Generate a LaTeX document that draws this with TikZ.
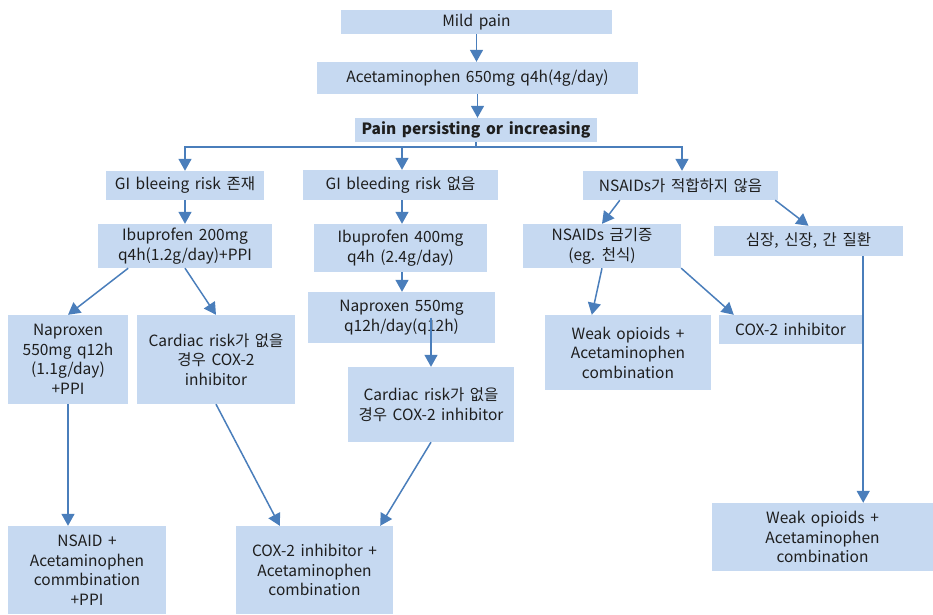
\documentclass[tikz,border=0pt]{standalone}
\usepackage{fontspec}
\setmainfont[WordSpace=1.6]{Noto Sans CJK KR}
\usetikzlibrary{arrows.meta,calc}
\definecolor{boxblue}{HTML}{C6D9F1}
\definecolor{arrowblue}{HTML}{4A7EBB}
\definecolor{txt}{HTML}{1E1E1E}
\tikzset{
  bx/.style={fill=boxblue, draw=none, inner sep=0pt, align=center, text=txt,
    font=\fontsize{15.5}{19.5}\selectfont},
  arr/.style={draw=arrowblue, line width=1.5pt, -{Triangle[width=13pt,length=12pt]}},
  ln/.style={draw=arrowblue, line width=1.5pt}
}
\begin{document}
\begin{tikzpicture}[x=1pt,y=-1pt]
\useasboundingbox (0,0) rectangle (933,614);
% boxes
\node[bx, minimum width=271, minimum height=24] (mild) at (476.5,22) {Mild pain};
\node[bx, minimum width=321, minimum height=32] (acet) at (477.5,78) {Acetaminophen 650mg q4h(4g/day)};
\node[bx, minimum width=242, minimum height=24, font=\fontsize{15.5}{19.5}\selectfont\bfseries] (pain) at (476,130) {\raisebox{-2pt}{Pain persisting or increasing}};
\node[bx, minimum width=158, minimum height=29] (gi1) at (185,185.5) {GI bleeing risk 존재};
\node[bx, minimum width=195, minimum height=30] (gi2) at (400.5,185) {GI bleeding risk 없음};
\node[bx, minimum width=195, minimum height=29] (nsa) at (680.5,185.5) {NSAIDs가 적합하지 않음};
\node[bx, minimum width=174, minimum height=44] (ibu1) at (185,246) {Ibuprofen 200mg\\q4h(1.2g/day)+PPI};
\node[bx, minimum width=173, minimum height=48] (ibu2) at (400.5,248) {Ibuprofen 400mg\\q4h (2.4g/day)};
\node[bx, minimum width=158, minimum height=44] (con) at (602,246) {NSAIDs 금기증\\(eg. 천식)};
\node[bx, minimum width=189, minimum height=30] (heart) at (808.5,241) {심장, 신장, 간 질환};
\node[bx, minimum width=120, minimum height=89] (nap1) at (68,359.5) {Naproxen\\550mg q12h\\(1.1g/day)\\+PPI};
\node[bx, minimum width=158, minimum height=89] (card1) at (216,359.5) {Cardiac risk가 없을\\경우 COX-2\\inhibitor};
\node[bx, minimum width=187, minimum height=51] (nap2) at (401.5,317.5) {Naproxen 550mg\\q12h/day(q12h)};
\node[bx, minimum width=166, minimum height=75] (card2) at (431,404.5) {Cardiac risk가 없을\\경우 COX-2 inhibitor};
\node[bx, minimum width=166, minimum height=75] (weak1) at (628,352.5) {Weak opioids +\\Acetaminophen\\combination};
\node[bx, minimum width=143, minimum height=29] (cox) at (790.5,329.5) {COX-2 inhibitor};
\node[bx, minimum width=158, minimum height=88] (nsaid) at (87,570) {NSAID +\\Acetaminophen\\commbination\\+PPI};
\node[bx, minimum width=157, minimum height=88] (coxa) at (314.5,570) {COX-2 inhibitor +\\Acetaminophen\\combination};
\node[bx, minimum width=221, minimum height=68] (weak2) at (822.5,537) {Weak opioids +\\Acetaminophen\\combination};
% connectors
\draw[arr] (mild.south) -- (mild.south |- acet.north);
\draw[arr] (acet.south) -- (acet.south |- pain.north);
\coordinate (br) at (476,147);
\draw[ln] (pain.south -| br) -- (br);
\draw[arr] (br) -| (gi1.north);
\draw[arr] (br) -| ($(gi2.north)+(1.5,0)$);
\draw[arr] (br) -| ($(nsa.north)+(1.5,0)$);
\draw[arr] (gi1.south) -- (gi1.south |- ibu1.north);
\draw[arr] ($(gi2.south)+(1.5,0)$) coordinate (g2) -- (g2 |- ibu2.north);
\draw[arr] ($(ibu2.south)+(1.5,0)$) coordinate (i2) -- (i2 |- nap2.north);
\draw[arr] (ibu1.south -| nap1.east) -- (nap1.north);
\draw[arr] (ibu1.south) -- (card1.north);
\draw[arr] (card2.north |- nap2.center) -- (card2.north);
\draw[arr] ($(nsa.south west)+(37,0)$) -- (con.north);
\draw[arr] ($(nsa.south east)+(-3,0)$) -- (heart.north);
\draw[arr] (con.south) -- ($(weak1.north west)+(47,0)$);
\draw[arr] (con.south east) -- ($(cox.north west)+(15,0)$);
\draw[arr] ($(heart.south east)+(-40,0)$) coordinate (hs) -- (hs |- weak2.north);
\draw[arr] (nap1.south) -- (nap1.south |- nsaid.north);
\draw[arr] (card1.south) -- ($(coxa.north west)+(44,0)$);
\draw[arr] (card2.south) -- ($(coxa.north east)+(-13,0)$);
\end{tikzpicture}
\end{document}
